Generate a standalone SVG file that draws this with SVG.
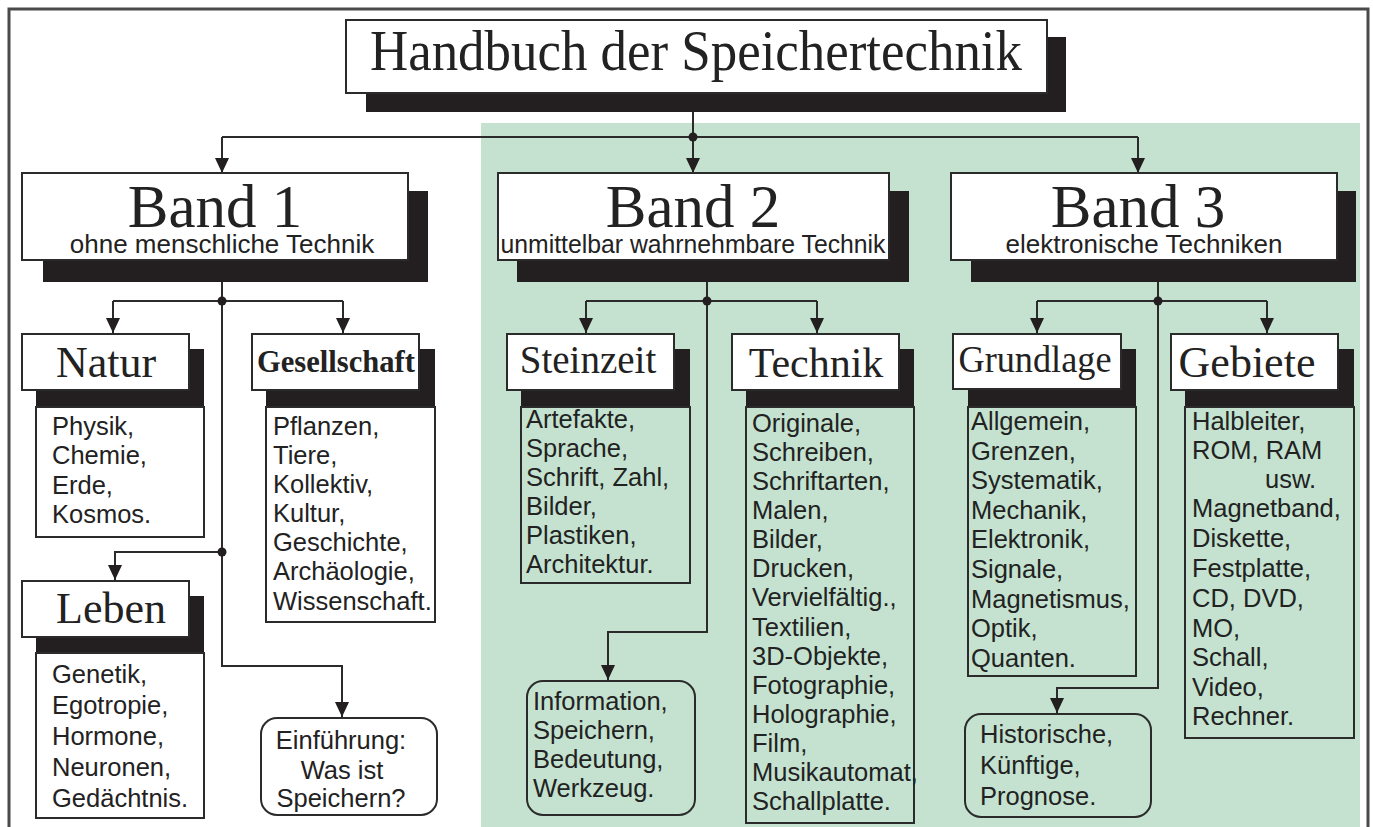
<svg xmlns="http://www.w3.org/2000/svg" width="1373" height="827" viewBox="0 0 1373 827">
<style>
.frame{fill:none;stroke:#4a4a4a;stroke-width:3}
.bg{fill:#c4e2cf}
.box{fill:#fff;stroke:#2b2b2b;stroke-width:2}
.lst{fill:none;stroke:#2b2b2b;stroke-width:2}
.rnd{fill:none;stroke:#2b2b2b;stroke-width:2}
.sh{fill:#231f20}
.ln{fill:none;stroke:#2b2b2b;stroke-width:2}
.dot{fill:#231f20}
.serif{font-family:"Liberation Serif","Times New Roman",serif;fill:#222}
.sans{font-family:"Liberation Sans",Arial,sans-serif;fill:#222;font-size:25.5px}
.sub{font-family:"Liberation Sans",Arial,sans-serif;fill:#222;font-size:26px;text-anchor:middle}
.mid{text-anchor:middle}
</style>
<defs>
<marker id="arr" markerUnits="userSpaceOnUse" markerWidth="15" markerHeight="14" refX="15" refY="7" orient="auto">
<path d="M0,0 L15,7 L0,14 z" fill="#231f20"/>
</marker>
</defs>
<rect x="0" y="0" width="1373" height="827" fill="#fff"/>
<rect class="frame" x="9" y="9" width="1359" height="840"/>
<rect class="bg" x="481" y="123" width="879" height="704"/>

<g id="connectors">
<path class="ln" d="M693,112 V137"/>
<path class="ln" d="M222,137 H1138"/>
<path class="ln" d="M222,137 V173" marker-end="url(#arr)"/>
<path class="ln" d="M693,137 V173" marker-end="url(#arr)"/>
<path class="ln" d="M1138,137 V173" marker-end="url(#arr)"/>
<circle class="dot" cx="693" cy="137" r="4.5"/>

<path class="ln" d="M222,282 V666 H342 V717" marker-end="url(#arr)"/>
<path class="ln" d="M113,301 H343"/>
<path class="ln" d="M113,301 V333" marker-end="url(#arr)"/>
<path class="ln" d="M343,301 V333" marker-end="url(#arr)"/>
<path class="ln" d="M222,552 H115 V580" marker-end="url(#arr)"/>
<circle class="dot" cx="222" cy="301" r="4.5"/>
<circle class="dot" cx="222" cy="552" r="4.5"/>

<path class="ln" d="M707,282 V632 H608 V680" marker-end="url(#arr)"/>
<path class="ln" d="M586,301 H817"/>
<path class="ln" d="M586,301 V333" marker-end="url(#arr)"/>
<path class="ln" d="M817,301 V333" marker-end="url(#arr)"/>
<circle class="dot" cx="707" cy="301" r="4.5"/>

<path class="ln" d="M1158,282 V688 H1057 V713" marker-end="url(#arr)"/>
<path class="ln" d="M1037,301 H1267"/>
<path class="ln" d="M1037,301 V333" marker-end="url(#arr)"/>
<path class="ln" d="M1267,301 V333" marker-end="url(#arr)"/>
<circle class="dot" cx="1158" cy="301" r="4.5"/>
</g>

<g id="title">
<rect class="sh" x="366" y="37" width="700" height="75"/>
<rect class="box" x="346" y="20" width="701" height="73"/>
<text class="serif mid" x="696" y="70" font-size="57" textLength="652" lengthAdjust="spacingAndGlyphs">Handbuch der Speichertechnik</text>
</g>

<g id="band1">
<rect class="sh" x="43" y="191" width="385" height="91"/>
<rect class="box" x="22" y="173" width="386" height="87"/>
<text class="serif mid" x="215" y="227" font-size="61">Band 1</text>
<text class="sub" x="222" y="253">ohne menschliche Technik</text>
</g>

<g id="band2">
<rect class="sh" x="517" y="191" width="392" height="91"/>
<rect class="box" x="498" y="173" width="391" height="87"/>
<text class="serif mid" x="693" y="227" font-size="61">Band 2</text>
<text class="sub" x="693" y="253" textLength="385" lengthAdjust="spacingAndGlyphs">unmittelbar wahrnehmbare Technik</text>
</g>

<g id="band3">
<rect class="sh" x="971" y="191" width="385" height="91"/>
<rect class="box" x="951" y="173" width="386" height="87"/>
<text class="serif mid" x="1138" y="227" font-size="61">Band 3</text>
<text class="sub" x="1144" y="253">elektronische Techniken</text>
</g>

<g id="natur">
<rect class="sh" x="36" y="349" width="168" height="58"/>
<rect class="box" x="22" y="334" width="167" height="56"/>
<text class="serif mid" x="106" y="377" font-size="44">Natur</text>
<rect class="lst" x="36" y="407" width="168" height="130"/>
<text class="sans" x="52" y="435">Physik,</text>
<text class="sans" x="52" y="464">Chemie,</text>
<text class="sans" x="52" y="494">Erde,</text>
<text class="sans" x="52" y="523">Kosmos.</text>
</g>

<g id="gesellschaft">
<rect class="sh" x="266" y="349" width="169" height="58"/>
<rect class="box" x="252" y="334" width="167" height="56"/>
<text class="serif mid" x="336" y="372" font-size="30.5" font-weight="bold" textLength="158" lengthAdjust="spacingAndGlyphs">Gesellschaft</text>
<rect class="lst" x="266" y="407" width="169" height="215"/>
<text class="sans" x="273" y="435">Pflanzen,</text>
<text class="sans" x="273" y="464">Tiere,</text>
<text class="sans" x="273" y="493">Kollektiv,</text>
<text class="sans" x="273" y="522">Kultur,</text>
<text class="sans" x="273" y="551">Geschichte,</text>
<text class="sans" x="273" y="580">Archäologie,</text>
<text class="sans" x="273" y="610">Wissenschaft.</text>
</g>

<g id="leben">
<rect class="sh" x="36" y="596" width="168" height="57"/>
<rect class="box" x="22" y="581" width="167" height="56"/>
<text class="serif mid" x="111" y="623" font-size="44">Leben</text>
<rect class="lst" x="36" y="653" width="168" height="165"/>
<text class="sans" x="52" y="683">Genetik,</text>
<text class="sans" x="52" y="714">Egotropie,</text>
<text class="sans" x="52" y="745">Hormone,</text>
<text class="sans" x="52" y="776">Neuronen,</text>
<text class="sans" x="52" y="807">Gedächtnis.</text>
</g>

<g id="einfuehrung">
<rect class="rnd" x="261" y="718" width="176" height="97" rx="16"/>
<text class="sans mid" x="341" y="749">Einführung:</text>
<text class="sans mid" x="342" y="779">Was ist</text>
<text class="sans mid" x="341" y="807">Speichern?</text>
</g>

<g id="steinzeit">
<rect class="sh" x="521" y="349" width="169" height="58"/>
<rect class="box" x="507" y="334" width="167" height="56"/>
<text class="serif mid" x="588" y="373" font-size="39">Steinzeit</text>
<rect class="lst" x="521" y="407" width="169" height="176"/>
<text class="sans" x="526" y="428">Artefakte,</text>
<text class="sans" x="526" y="457">Sprache,</text>
<text class="sans" x="526" y="486">Schrift, Zahl,</text>
<text class="sans" x="526" y="515">Bilder,</text>
<text class="sans" x="526" y="544">Plastiken,</text>
<text class="sans" x="526" y="573">Architektur.</text>
</g>

<g id="technik">
<rect class="sh" x="746" y="349" width="168" height="58"/>
<rect class="box" x="732" y="334" width="167" height="56"/>
<text class="serif mid" x="816" y="377" font-size="42">Technik</text>
<rect class="lst" x="746" y="407" width="168" height="416"/>
<text class="sans" x="752" y="432">Originale,</text>
<text class="sans" x="752" y="461">Schreiben,</text>
<text class="sans" x="752" y="490">Schriftarten,</text>
<text class="sans" x="752" y="519">Malen,</text>
<text class="sans" x="752" y="548">Bilder,</text>
<text class="sans" x="752" y="577">Drucken,</text>
<text class="sans" x="752" y="606">Vervielfältig.,</text>
<text class="sans" x="752" y="636">Textilien,</text>
<text class="sans" x="752" y="665">3D-Objekte,</text>
<text class="sans" x="752" y="694">Fotographie,</text>
<text class="sans" x="752" y="723">Holographie,</text>
<text class="sans" x="752" y="752">Film,</text>
<text class="sans" x="752" y="781">Musikautomat,</text>
<text class="sans" x="752" y="810">Schallplatte.</text>
</g>

<g id="information">
<rect class="rnd" x="527" y="681" width="168" height="134" rx="16"/>
<text class="sans" x="533" y="710">Information,</text>
<text class="sans" x="533" y="739">Speichern,</text>
<text class="sans" x="533" y="768">Bedeutung,</text>
<text class="sans" x="533" y="797">Werkzeug.</text>
</g>

<g id="grundlage">
<rect class="sh" x="968" y="349" width="168" height="58"/>
<rect class="box" x="953" y="334" width="168" height="55"/>
<text class="serif mid" x="1035" y="372" font-size="37" textLength="153" lengthAdjust="spacingAndGlyphs">Grundlage</text>
<rect class="lst" x="968" y="407" width="168" height="269"/>
<text class="sans" x="971" y="430">Allgemein,</text>
<text class="sans" x="971" y="460">Grenzen,</text>
<text class="sans" x="971" y="489">Systematik,</text>
<text class="sans" x="971" y="519">Mechanik,</text>
<text class="sans" x="971" y="548">Elektronik,</text>
<text class="sans" x="971" y="578">Signale,</text>
<text class="sans" x="971" y="608">Magnetismus,</text>
<text class="sans" x="971" y="637">Optik,</text>
<text class="sans" x="971" y="667">Quanten.</text>
</g>

<g id="gebiete">
<rect class="sh" x="1185" y="349" width="169" height="58"/>
<rect class="box" x="1171" y="334" width="167" height="56"/>
<text class="serif mid" x="1247" y="377" font-size="44">Gebiete</text>
<rect class="lst" x="1185" y="407" width="169" height="331"/>
<text class="sans" x="1192" y="430">Halbleiter,</text>
<text class="sans" x="1192" y="459">ROM, RAM</text>
<text class="sans" x="1265" y="488">usw.</text>
<text class="sans" x="1192" y="517">Magnetband,</text>
<text class="sans" x="1192" y="547">Diskette,</text>
<text class="sans" x="1192" y="577">Festplatte,</text>
<text class="sans" x="1192" y="607">CD, DVD,</text>
<text class="sans" x="1192" y="637">MO,</text>
<text class="sans" x="1192" y="666">Schall,</text>
<text class="sans" x="1192" y="696">Video,</text>
<text class="sans" x="1192" y="725">Rechner.</text>
</g>

<g id="historische">
<rect class="rnd" x="965" y="714" width="186" height="103" rx="16"/>
<text class="sans" x="980" y="743" font-size="26.5">Historische,</text>
<text class="sans" x="980" y="774" font-size="26.5">Künftige,</text>
<text class="sans" x="980" y="805" font-size="26.5">Prognose.</text>
</g>
</svg>
